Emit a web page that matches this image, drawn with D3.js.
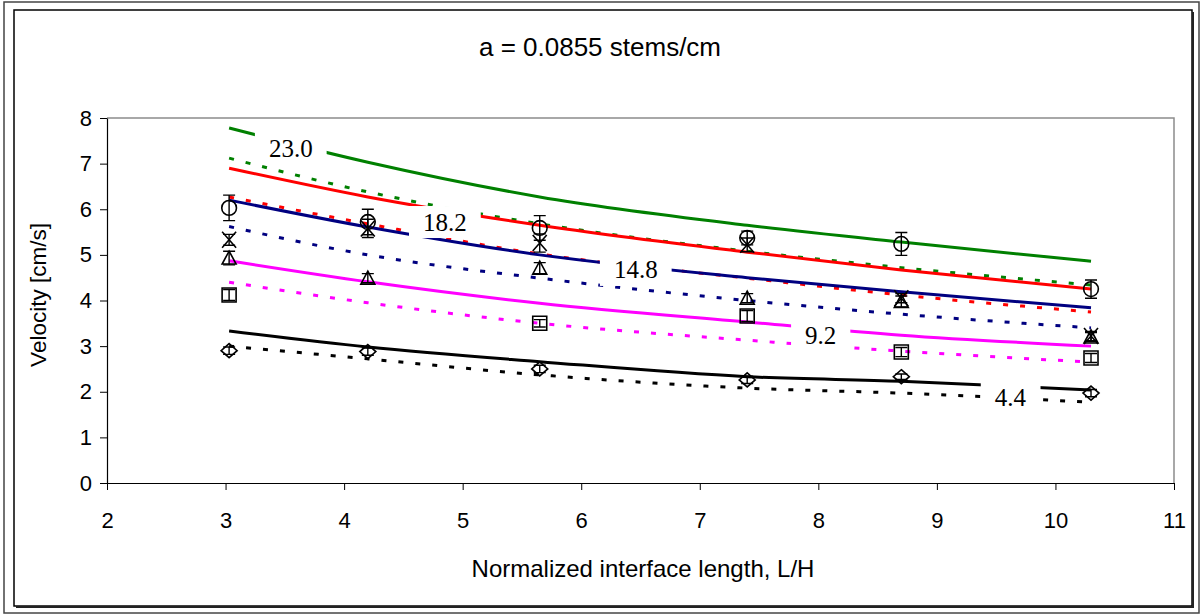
<!DOCTYPE html>
<html>
<head>
<meta charset="utf-8">
<script src="https://cdnjs.cloudflare.com/ajax/libs/d3/7.8.5/d3.min.js"></script>
<style>
  body { margin: 0; background: #fff; }
  svg text { font-family: "Liberation Sans", Arial, sans-serif; }
</style>
</head>
<body>
<div id="chart"></div>
<script>
// x positions of model points / measurements (L/H)
const xs = [3.03, 4.2, 5.65, 7.4, 8.7, 10.3];

// model curves, solid and dotted, one pair per velocity series
const green = [7.78, 7.03, 6.27, 5.65, 5.28, 4.86];
const greenDot = [7.12, 6.38, 5.68, 5.08, 4.72, 4.34];
const red = [6.9, 6.27, 5.65, 5.06, 4.67, 4.25];
const redDot = [6.27, 5.68, 5.02, 4.49, 4.12, 3.75];
const navy = [6.2, 5.61, 5.0, 4.5, 4.19, 3.84];
const navyDot = [5.62, 5.0, 4.49, 4.0, 3.7, 3.4];
const magenta = [4.87, 4.41, 3.94, 3.53, 3.24, 3.0];
const magentaDot = [4.4, 3.95, 3.5, 3.13, 2.89, 2.65];
const black = [3.33, 2.98, 2.66, 2.33, 2.23, 2.04];
const blackDot = [3.0, 2.72, 2.37, 2.08, 1.97, 1.77];

// measured values with error bars
const circleObs = [6.03, 5.72, 5.59, 5.37, 5.24, 4.25];
const circleErr = [0.28, 0.28, 0.27, 0.15, 0.25, 0.2];
const crossObs = [5.33, 5.58, 5.26, 5.22, 4.05, 3.22];
const crossErr = [0.12, 0.2, 0.2, 0.15, 0.1, 0.1];
const triObs = [4.93, 4.49, 4.71, 4.05, 3.98, 3.2];
const triErr = [0.15, 0.1, 0.12, 0.1, 0.12, 0.1];
const squareObs = [4.12, null, 3.5, 3.66, 2.87, 2.74];
const squareErr = [0.12, 0, 0.08, 0.12, 0.1, 0.1];
const diamondObs = [2.9, 2.88, 2.5, 2.26, 2.33, 1.97];
const diamondErr = [0.08, 0.08, 0.08, 0.08, 0.06, 0.08];

// curve labels (text, x, y in data units)
const labelText = ["23.0", "18.2", "14.8", "9.2", "4.4"];
const labelX = [3.55, 4.85, 6.46, 8.02, 9.62];
const labelY = [7.34, 5.72, 4.67, 3.24, 1.88];

const xTicks = [2, 3, 4, 5, 6, 7, 8, 9, 10, 11];
const yTicks = [0, 1, 2, 3, 4, 5, 6, 7, 8];

const W = 1202, H = 615;
const plot = { left: 107, right: 1174, top: 118, bottom: 483 };

const svg = d3.select("#chart").append("svg")
    .attr("width", W)
    .attr("height", H);

// outer frame
svg.append("rect").attr("x", 4).attr("y", 2).attr("width", 1195).attr("height", 611)
    .attr("fill", "none").attr("stroke", "#444").attr("stroke-width", 1.5);
svg.append("rect").attr("x", 14).attr("y", 10).attr("width", 1178).attr("height", 596)
    .attr("fill", "none").attr("stroke", "#000").attr("stroke-width", 1.5);
// shadow on inner frame
svg.append("path").attr("d", "M16,607 H1193 V12")
    .attr("fill", "none").attr("stroke", "#222").attr("stroke-width", 2);

const x = d3.scaleLinear().domain([2, 11]).range([plot.left, plot.right]);
const y = d3.scaleLinear().domain([0, 8]).range([plot.bottom, plot.top]);

// plot area border
svg.append("path")
    .attr("d", `M${plot.left},${plot.top} H${plot.right} V${plot.bottom}`)
    .attr("fill", "none").attr("stroke", "#8c8c8c").attr("stroke-width", 1.5);

// axes
const yAxis = svg.append("g")
    .attr("transform", `translate(${plot.left},0)`)
    .call(d3.axisLeft(y).tickValues(yTicks).tickSize(7).tickSizeOuter(0).tickPadding(8));
const xAxis = svg.append("g")
    .attr("transform", `translate(0,${plot.bottom})`)
    .call(d3.axisBottom(x).tickValues(xTicks).tickSize(7).tickSizeOuter(0).tickPadding(22));

[yAxis, xAxis].forEach(a => {
    a.select(".domain").attr("stroke", "#000").attr("stroke-width", 1.2);
    a.selectAll(".tick line").attr("stroke", "#000").attr("stroke-width", 1);
    a.selectAll(".tick text")
        .attr("fill", "#000")
        .style("font-size", "22px")
        .style("font-family", "'Liberation Sans', Arial, sans-serif");
});

// titles
svg.append("text")
    .attr("x", 600).attr("y", 56)
    .attr("text-anchor", "middle")
    .style("font-size", "26px")
    .text("a = 0.0855 stems/cm");

svg.append("text")
    .attr("x", 643).attr("y", 577)
    .attr("text-anchor", "middle")
    .style("font-size", "24px")
    .text("Normalized interface length, L/H");

svg.append("text")
    .attr("transform", `translate(46,295) rotate(-90)`)
    .attr("text-anchor", "middle")
    .style("font-size", "22.5px")
    .text("Velocity [cm/s]");

// model lines
const line = d3.line()
    .x((d, i) => x(xs[i]))
    .y(d => y(d))
    .curve(d3.curveMonotoneX);

const series = [
    { values: green, color: "#008000", dash: null },
    { values: greenDot, color: "#008000", dash: "5,12" },
    { values: red, color: "#ff0000", dash: null },
    { values: redDot, color: "#ff0000", dash: "5,12" },
    { values: navy, color: "#000080", dash: null },
    { values: navyDot, color: "#000080", dash: "5,12" },
    { values: magenta, color: "#ff00ff", dash: null },
    { values: magentaDot, color: "#ff00ff", dash: "5,12" },
    { values: black, color: "#000000", dash: null },
    { values: blackDot, color: "#000000", dash: "5,12" }
];

svg.append("g").selectAll("path")
    .data(series)
    .enter()
    .append("path")
    .attr("d", d => line(d.values))
    .attr("fill", "none")
    .attr("stroke", d => d.color)
    .attr("stroke-width", 3)
    .attr("stroke-dasharray", d => d.dash);

// curve labels with white boxes
const labels = svg.append("g");
labelText.forEach((t, i) => {
    const g = labels.append("g");
    const txt = g.append("text")
        .attr("x", x(labelX[i]))
        .attr("y", y(labelY[i]))
        .attr("text-anchor", "middle")
        .attr("dominant-baseline", "central")
        .style("font-family", "'Liberation Serif', 'Times New Roman', serif")
        .style("font-size", "25px")
        .text(t);
    const bb = txt.node().getBBox();
    g.insert("rect", "text")
        .attr("x", bb.x - 14)
        .attr("y", y(labelY[i]) - 16)
        .attr("width", bb.width + 28)
        .attr("height", 32)
        .attr("fill", "#fff");
});

// markers with error bars
const markers = [
    { obs: circleObs, err: circleErr, shape: "circle" },
    { obs: crossObs, err: crossErr, shape: "cross" },
    { obs: triObs, err: triErr, shape: "triangle" },
    { obs: squareObs, err: squareErr, shape: "square" },
    { obs: diamondObs, err: diamondErr, shape: "diamond" }
];

function shapePath(shape) {
    switch (shape) {
        case "circle": return d3.symbol(d3.symbolCircle, 170)();
        case "triangle": return "M0,-7 L7,6 L-7,6 Z";
        case "square": return "M-7,-7 H7 V7 H-7 Z";
        case "diamond": return "M0,-7 L8,0 L0,7 L-8,0 Z";
        case "cross": return "M-7,-8 L7,8 M-7,8 L7,-8";
    }
}

const mg = svg.append("g");
markers.forEach(m => {
    m.obs.forEach((v, i) => {
        if (v == null) return;
        const cx = x(xs[i]), cy = y(v);
        const y0 = y(v - m.err[i]), y1 = y(v + m.err[i]);
        mg.append("path")
            .attr("d", `M${cx},${y0} V${y1} M${cx - 6},${y0} H${cx + 6} M${cx - 6},${y1} H${cx + 6}`)
            .attr("stroke", "#000").attr("stroke-width", 1.4).attr("fill", "none");
        mg.append("path")
            .attr("transform", `translate(${cx},${cy})`)
            .attr("d", shapePath(m.shape))
            .attr("fill", "none")
            .attr("stroke", "#000")
            .attr("stroke-width", 1.6);
    });
});
</script>
</body>
</html>
